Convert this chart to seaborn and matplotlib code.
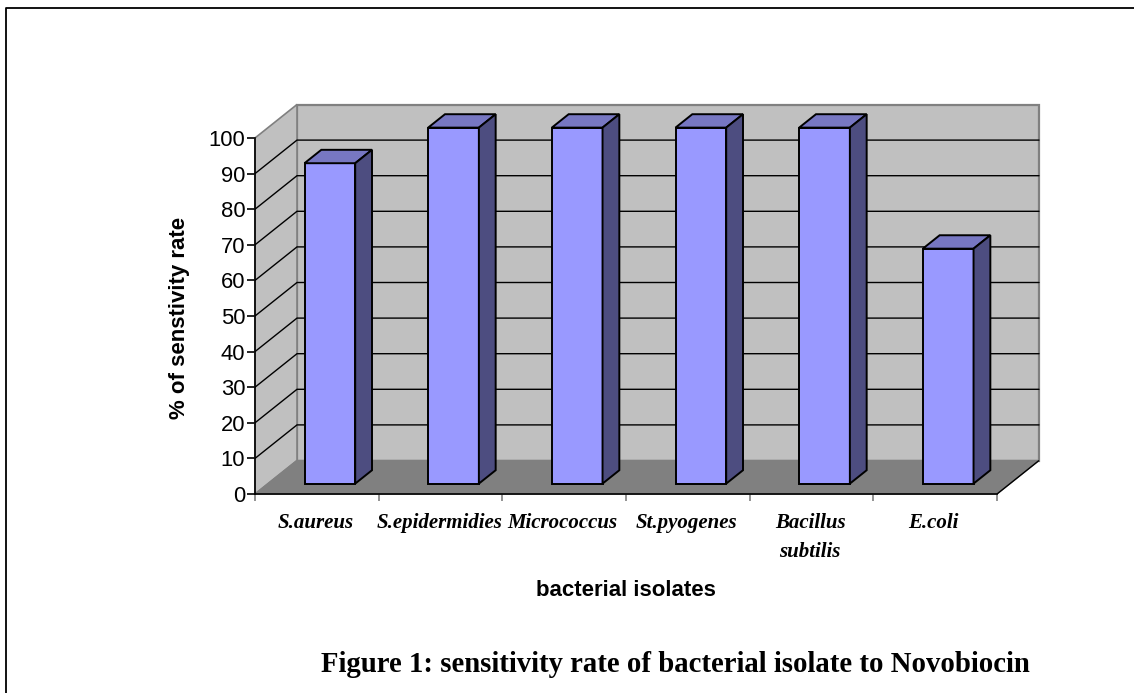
import numpy as np
import pandas as pd
import matplotlib
matplotlib.use("Agg")
import matplotlib.pyplot as plt
from matplotlib.patches import Polygon, Rectangle
from matplotlib.transforms import Affine2D
import seaborn as sns

categories = ["S.aureus", "S.epidermidies", "Micrococcus", "St.pyogenes", "Bacillus\nsubtilis", "E.coli"]
values = [90, 100, 100, 100, 100, 66]
y_ticks = [0, 10, 20, 30, 40, 50, 60, 70, 80, 90, 100]

W, H = 1134, 693
sns.set_theme(style="white")
plt.rcParams["font.family"] = ["Liberation Sans", "DejaVu Sans"]

fig = plt.figure(figsize=(W / 100, H / 100), dpi=100, facecolor="white")
L, R, T, B = 255, 997, 138, 494
ax = fig.add_axes([L / W, 1 - B / H, (R - L) / W, (B - T) / H])
ax.set_facecolor("none")

df = pd.DataFrame({"isolate": categories, "value": values})
sns.barplot(data=df, x="isolate", y="value", color="#9999FF", saturation=1, width=0.41,
            edgecolor="black", linewidth=1.4, ax=ax, zorder=5)
ax.set_xlim(-0.5, len(categories) - 0.5)
ax.set_ylim(0, 100)

DX, DY = 42, 33.5       # full depth of the box in pixels
F0, F1 = 0.31, 0.71     # bar's front / back depth fractions


def shifted(f):
    return ax.transData + Affine2D().translate(DX * f, DY * f)


def pts(coords):
    out = []
    for x, y, f in coords:
        px = ax.transData.transform((x, y))
        out.append((px[0] + DX * f, px[1] + DY * f))
    return out


fig.canvas.draw()
x0, x1 = ax.get_xlim()


def poly(coords, **kw):
    ax.add_patch(Polygon(pts(coords), closed=True, transform=None, clip_on=False, **kw))


poly([(x0, 0, 1), (x1, 0, 1), (x1, 100, 1), (x0, 100, 1)], facecolor="#C0C0C0", edgecolor="#808080", lw=1.6, zorder=1)
poly([(x0, 0, 0), (x0, 0, 1), (x0, 100, 1), (x0, 100, 0)], facecolor="#C0C0C0", edgecolor="#808080", lw=1.2, zorder=1)
poly([(x0, 0, 0), (x1, 0, 0), (x1, 0, 1), (x0, 0, 1)], facecolor="#808080", edgecolor="#808080", lw=1, zorder=2)

for v in y_ticks[1:-1]:
    p = pts([(x0, v, 0), (x0, v, 1), (x1, v, 1)])
    ax.plot(*zip(*p), transform=None, color="black", lw=1.0, clip_on=False, zorder=1.5,
            solid_joinstyle="miter")

# bars: 3-D faces from the seaborn bars, moved into the box
for bar in list(ax.patches):
    if not isinstance(bar, Rectangle):
        continue
    bx0, bx1 = bar.get_x(), bar.get_x() + bar.get_width()
    h = bar.get_height()
    bar.set_transform(shifted(F0))
    bar.set_clip_on(False)
    poly([(bx0, h, F0), (bx1, h, F0), (bx1, h, F1), (bx0, h, F1)],
         facecolor="#7777C2", edgecolor="black", lw=1.4, zorder=5)
    poly([(bx1, 0, F0), (bx1, 0, F1), (bx1, h, F1), (bx1, h, F0)],
         facecolor="#4D4D80", edgecolor="black", lw=1.4, zorder=5)

for s in ["top", "right"]:
    ax.spines[s].set_visible(False)
for s in ["left", "bottom"]:
    ax.spines[s].set_color("black")
    ax.spines[s].set_linewidth(1.2)
    ax.spines[s].set_zorder(6)
# right edge of the floor
poly([(x1, 0, 0), (x1, 0, 1)], fill=False, edgecolor="black", lw=1.0, zorder=3)

ax.set_yticks(y_ticks)
ax.tick_params(axis="y", length=5.5, width=1.2, color="black", labelsize=15.8, pad=1.5, left=True,
               labelcolor="black")
ax.set_xticks(np.arange(-0.5, len(categories)))
ax.set_xticklabels([""] * (len(categories) + 1))
ax.tick_params(axis="x", length=5, width=1.2, color="#808080", bottom=True)
xt = ax.xaxis.get_major_ticks()
xt[0].tick1line.set_color("black")
xt[-1].tick1line.set_color("black")
for i, c in enumerate(categories):
    ax.annotate(c, xy=(i, 0), xycoords=("data", "axes fraction"), xytext=(-1, -13.5), textcoords="offset points",
                ha="center", va="top", fontsize=15, family="Liberation Serif", style="italic",
                weight="bold", color="black", linespacing=1.6)
ax.set_xlabel("")
ax.set_ylabel("")
fig.text(179.5 / W, 1 - 318 / H, "% of senstivity rate", rotation=90, ha="center", va="center",
         fontsize=16, weight="bold", color="black")
fig.text(626 / W, 1 - 591 / H, "bacterial isolates", ha="center", va="center",
         fontsize=16, weight="bold", color="black")
fig.text(321 / W, 1 - 664 / H, "Figure 1: sensitivity rate of bacterial isolate to Novobiocin",
         ha="left", va="center", fontsize=20.7, weight="bold", family="Liberation Serif", color="black")

# page frame: left and top only
fig.add_artist(plt.Line2D([6 / W, 6 / W, 1], [0, 1 - 7.5 / H, 1 - 7.5 / H], color="black", lw=1.3))

fig.savefig("out.png", dpi=100)
